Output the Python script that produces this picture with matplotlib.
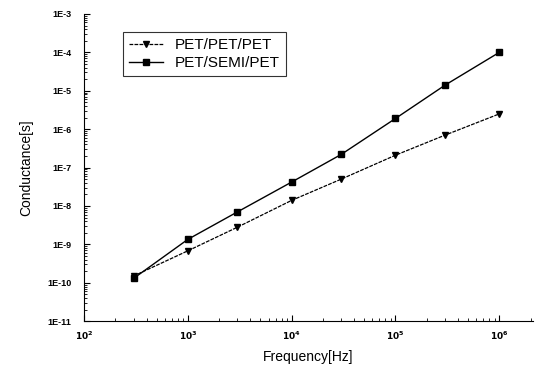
import matplotlib.pyplot as plt
from matplotlib.ticker import LogLocator, FixedLocator, NullFormatter

plt.rcParams['font.family'] = ['Liberation Sans', 'DejaVu Sans']

freq = [300, 1000, 3000, 10000, 30000, 100000, 300000, 1000000]
pet_pet_pet = [1.5e-10, 6.8e-10, 2.8e-9, 1.4e-8, 5.0e-8, 2.1e-7, 7.0e-7, 2.5e-6]
pet_semi_pet = [1.3e-10, 1.35e-9, 7.0e-9, 4.2e-8, 2.2e-7, 1.9e-6, 1.4e-5, 1.0e-4]
ytick_labels = ['1E-11', '1E-10', '1E-9', '1E-8', '1E-7', '1E-6', '1E-5', '1E-4', '1E-3']

fig = plt.figure(figsize=(5.42, 3.77), dpi=100)
ax = fig.add_axes([0.155, 0.148, 0.828, 0.815])

ax.plot(freq, pet_pet_pet, color='black', lw=0.9, ls=(0, (3, 1)), marker='v', ms=5,
        label='PET/PET/PET')
ax.plot(freq, pet_semi_pet, color='black', lw=1.0, marker='s', ms=4,
        label='PET/SEMI/PET')

ax.set_xscale('log')
ax.set_yscale('log')
ax.set_xlim(1e2, 2.1e6)
ax.set_ylim(1e-11, 1e-3)

ax.spines['top'].set_visible(False)
ax.spines['right'].set_visible(False)

ax.yaxis.set_major_locator(FixedLocator([10.0 ** e for e in range(-11, -2)]))
ax.set_yticklabels(ytick_labels, fontweight='bold')
ax.yaxis.set_minor_locator(LogLocator(base=10, subs=range(2, 10), numticks=20))
ax.yaxis.set_minor_formatter(NullFormatter())
ax.xaxis.set_major_locator(FixedLocator([1e2, 1e3, 1e4, 1e5, 1e6]))
ax.set_xticklabels(['$\\mathbf{10^2}$', '$\\mathbf{10^3}$', '$\\mathbf{10^4}$',
                    '$\\mathbf{10^5}$', '$\\mathbf{10^6}$'])
ax.xaxis.set_minor_locator(LogLocator(base=10, subs=range(2, 10), numticks=20))
ax.xaxis.set_minor_formatter(NullFormatter())

ax.tick_params(which='major', direction='in', length=4, width=0.8, labelsize=6.5)
ax.tick_params(which='minor', direction='in', length=2, width=0.6)
ax.tick_params(axis='y', pad=9)
ax.tick_params(axis='x', pad=6)

ax.set_xlabel('Frequency[Hz]', fontsize=10, labelpad=6)
ax.set_ylabel('Conductance[s]', fontsize=10, labelpad=10)

leg = ax.legend(loc='upper left', bbox_to_anchor=(0.07, 0.965), fontsize=11,
                fancybox=False, edgecolor='black', handlelength=2.2,
                borderpad=0.4, labelspacing=0.25)
leg.get_frame().set_linewidth(0.8)

fig.savefig('out.png', dpi=100)
